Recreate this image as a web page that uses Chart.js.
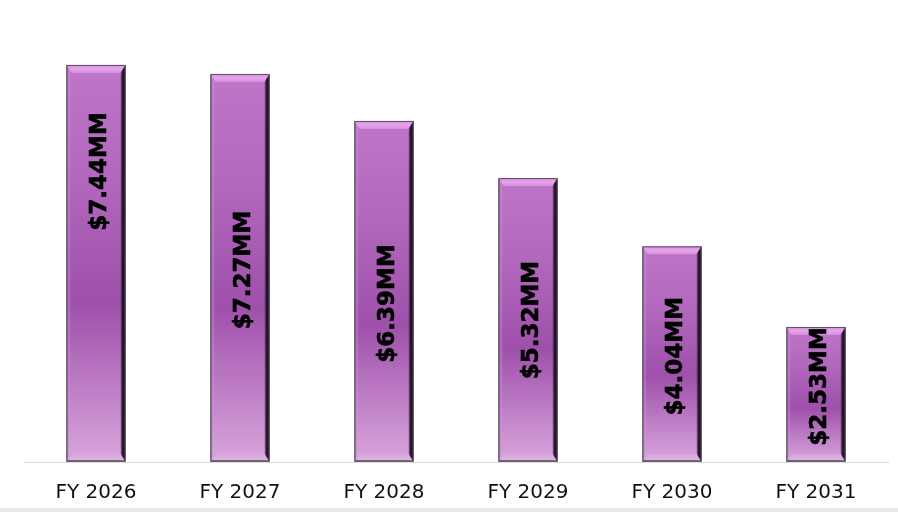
<!DOCTYPE html>
<html lang="en">
<head>
    <meta charset="UTF-8">
    <title>FY bars</title>
<script src="https://cdn.jsdelivr.net/npm/chart.js"></script>
<style>
    html, body { margin:0; padding:0; background:#e9e9e9; }
    #wrap { width:898px; height:508px; background:#fff; position:relative; }
</style>
</head>
<body>
<div id="wrap">
    <canvas id="myChart"></canvas>
</div>
<script>
// data
const categories = ['FY 2026', 'FY 2027', 'FY 2028', 'FY 2029', 'FY 2030', 'FY 2031'];
const values = [7.44, 7.27, 6.39, 5.32, 4.04, 2.53];
const valueLabels = ['$7.44MM', '$7.27MM', '$6.39MM', '$5.32MM', '$4.04MM', '$2.53MM'];

// label nudges (px) - the labels in the original were moved by hand
const labelShift = [-92, 2, 12, 0, 2, -8];

// gradient down the bar face
function barFill(c){
    const chart = c.chart;
    if(!chart.chartArea) return '#a95bb4';
    const y = chart.scales.y;
    const top = y.getPixelForValue(c.raw);
    const bot = y.getPixelForValue(0);
    const g = chart.ctx.createLinearGradient(0, top, 0, bot);
    g.addColorStop(0, '#bf76c8');
    g.addColorStop(0.3, '#b167bc');
    g.addColorStop(0.6, '#9e50aa');
    g.addColorStop(0.85, '#c386ca');
    g.addColorStop(1, '#d8a6dd');
    return g;
}

// bevel edges + rotated value text
const bevelPlugin = {
    id: 'bevel',
    afterDatasetsDraw(chart){
        const ctx = chart.ctx;
        const meta = chart.getDatasetMeta(0);
        const bt = 8, bs = 5;   // top/bottom and side bevel
        meta.data.forEach((bar, i) => {
            const l = bar.x - bar.width/2, r = bar.x + bar.width/2;
            const t = bar.y, btm = bar.base;
            ctx.save();
            // top bevel
            let g = ctx.createLinearGradient(0, t, 0, t+bt);
            g.addColorStop(0, '#d98fe0');
            g.addColorStop(0.5, '#e7a3ec');
            g.addColorStop(1, '#d590dc');
            ctx.fillStyle = g;
            ctx.beginPath();
            ctx.moveTo(l, t); ctx.lineTo(r, t); ctx.lineTo(r-bs, t+bt); ctx.lineTo(l+bs, t+bt);
            ctx.closePath(); ctx.fill();
            // left bevel
            g = ctx.createLinearGradient(l, 0, l+bs, 0);
            g.addColorStop(0, 'rgba(90,60,95,0.9)');
            g.addColorStop(0.35, 'rgba(205,150,215,0.45)');
            g.addColorStop(1, 'rgba(200,140,210,0)');
            ctx.fillStyle = g;
            ctx.beginPath();
            ctx.moveTo(l, t); ctx.lineTo(l+bs, t+bt); ctx.lineTo(l+bs, btm-bt); ctx.lineTo(l, btm);
            ctx.closePath(); ctx.fill();
            // right bevel (dark)
            g = ctx.createLinearGradient(r-bs, 0, r, 0);
            g.addColorStop(0, 'rgba(60,30,65,0.35)');
            g.addColorStop(0.4, 'rgba(30,20,32,0.95)');
            g.addColorStop(1, 'rgba(15,10,15,1)');
            ctx.fillStyle = g;
            ctx.beginPath();
            ctx.moveTo(r, t); ctx.lineTo(r, btm); ctx.lineTo(r-bs, btm-bt); ctx.lineTo(r-bs, t+bt);
            ctx.closePath(); ctx.fill();
            // bottom bevel
            g = ctx.createLinearGradient(0, btm-bt, 0, btm);
            g.addColorStop(0, '#d7a3dc');
            g.addColorStop(1, '#e2b8e5');
            ctx.fillStyle = g;
            ctx.beginPath();
            ctx.moveTo(l+bs, btm-bt); ctx.lineTo(r-bs, btm-bt); ctx.lineTo(r, btm); ctx.lineTo(l, btm);
            ctx.closePath(); ctx.fill();
            // outline
            ctx.strokeStyle = '#5a5060';
            ctx.lineWidth = 1;
            ctx.strokeRect(l+0.5, t+0.5, bar.width-1, btm-t-1);
            ctx.fillStyle = '#6e6470';
            ctx.fillRect(l, btm-2, bar.width, 2);

            // value text
            ctx.translate(bar.x + 4, (t + btm)/2 + labelShift[i]);
            ctx.rotate(-Math.PI/2);
            ctx.font = 'bold 23px "DejaVu Sans"';
            ctx.fillStyle = '#000';
            ctx.strokeStyle = '#000';
            ctx.lineWidth = 0.6;
            ctx.textAlign = 'center';
            ctx.textBaseline = 'middle';
            ctx.fillText(valueLabels[i], 0, 0);
            ctx.strokeText(valueLabels[i], 0, 0);
            ctx.restore();
        });
    }
};

const ctx = document.getElementById('myChart').getContext('2d');
const myChart = new Chart(ctx, {
    type: 'bar',
    data: {
        labels: categories,
        datasets: [{
            data: values,
            backgroundColor: barFill,
            borderWidth: 0,
            categoryPercentage: 1,
            barPercentage: 0.41
        }]
    },
    options: {
        responsive: true,
        maintainAspectRatio: false,
        animation: false,
        layout: { padding: { left: 24, right: 10, top: 35, bottom: 0 } },
        plugins: {
            legend: { display: false },
            tooltip: { enabled: false }
        },
        scales: {
            x: {
                grid: { display: false },
                border: { display: true, color: '#d9d9d9', width: 1 },
                ticks: {
                    color: '#111',
                    padding: 11,
                    font: { family: '"DejaVu Sans"', size: 20 }
                },
                afterFit(scale){ scale.height = 46; }
            },
            y: {
                display: false,
                min: 0,
                max: 8
            }
        }
    },
    plugins: [bevelPlugin]
});
</script>
</body>
</html>
